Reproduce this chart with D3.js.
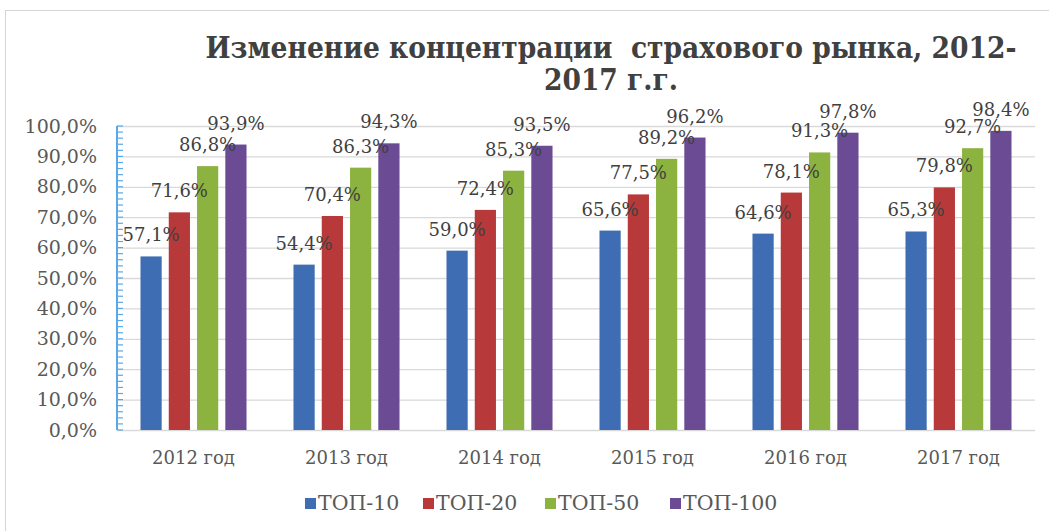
<!DOCTYPE html>
<html>
<head>
<meta charset="utf-8">
<script src="https://cdn.jsdelivr.net/npm/d3@7"></script>
<style>
  body { margin: 0; background: #fff; }
  svg { display: block; }
</style>
</head>
<body>
<svg id="chart"></svg>
<script>
const years = ['2012 год', '2013 год', '2014 год', '2015 год', '2016 год', '2017 год'];
const seriesNames = ['ТОП-10', 'ТОП-20', 'ТОП-50', 'ТОП-100'];
const top10 = [0.571, 0.544, 0.590, 0.656, 0.646, 0.653];
const top20 = [0.716, 0.704, 0.724, 0.775, 0.781, 0.798];
const top50 = [0.868, 0.863, 0.853, 0.892, 0.913, 0.927];
const top100 = [0.939, 0.943, 0.935, 0.962, 0.978, 0.984];
const yTicks = [0, 0.1, 0.2, 0.3, 0.4, 0.5, 0.6, 0.7, 0.8, 0.9, 1.0];
const colors = ['#3f6db3', '#b7393a', '#8cb23f', '#6a4b94'];

const W = 1049, H = 531;
const svg = d3.select('#chart').attr('width', W).attr('height', H);

// outer frame
svg.append('rect')
  .attr('x', 5.5).attr('y', 10.5)
  .attr('width', W + 10).attr('height', H + 10)
  .attr('fill', '#fff').attr('stroke', '#d4d4d4');

const x0 = d3.scaleBand().domain(years).range([117, 1035]).paddingInner(0.307).paddingOuter(0.1535);
const x1 = d3.scaleBand().domain(seriesNames).range([0, x0.bandwidth()]).paddingInner(0.25);
const y = d3.scaleLinear().domain([0, 1]).range([430, 126]);

const fmt = v => d3.format('.1f')(v * 100).replace('.', ',') + '%';

// gridlines
svg.append('g')
  .attr('transform', 'translate(117,0)')
  .call(d3.axisLeft(y).tickValues(yTicks).tickSize(-(1035 - 117)).tickFormat(''))
  .call(g => g.select('.domain').remove())
  .call(g => g.selectAll('line').attr('stroke', '#d9d9d9').attr('stroke-width', 1.3));

// y tick labels
svg.append('g')
  .selectAll('text')
  .data(yTicks)
  .enter()
  .append('text')
  .attr('x', 97)
  .attr('y', d => y(d))
  .attr('dy', '0.35em')
  .attr('text-anchor', 'end')
  .style('font-family', 'DejaVu Serif')
  .style('font-size', '19px')
  .style('fill', '#595959')
  .text(fmt);

// bars
const data = [top10, top20, top50, top100];
const groups = svg.append('g')
  .selectAll('g')
  .data(years)
  .enter()
  .append('g')
  .attr('transform', d => `translate(${x0(d)},0)`);

groups.selectAll('rect')
  .data((d, i) => seriesNames.map((s, k) => ({ s, v: data[k][i], k })))
  .enter()
  .append('rect')
  .attr('x', d => x1(d.s))
  .attr('y', d => y(d.v))
  .attr('width', x1.bandwidth())
  .attr('height', d => y(0) - y(d.v))
  .attr('fill', d => colors[d.k]);

groups.selectAll('.value-label')
  .data((d, i) => seriesNames.map((s, k) => ({ s, v: data[k][i], k })))
  .enter()
  .append('text')
  .attr('class', 'value-label')
  .attr('x', d => x1(d.s) + x1.bandwidth() / 2)
  .attr('y', d => y(d.v) - 15)
  .attr('text-anchor', 'middle')
  .style('font-family', 'DejaVu Serif')
  .style('font-size', '18px')
  .style('fill', '#404040')
  .text(d => fmt(d.v));

// y axis line with minor ticks
const minor = d3.range(0, 101, 2).map(d => d / 100);
const yAxis = svg.append('g').attr('transform', 'translate(117,0)');
yAxis.selectAll('line')
  .data(minor)
  .enter()
  .append('line')
  .attr('x1', 0).attr('x2', 6)
  .attr('y1', d => y(d)).attr('y2', d => y(d))
  .attr('stroke', '#5aa8e8').attr('stroke-width', 1.2);
yAxis.append('line')
  .attr('x1', 0).attr('x2', 0)
  .attr('y1', y(1)).attr('y2', y(0))
  .attr('stroke', '#5aa8e8').attr('stroke-width', 2);

// x labels
svg.append('g')
  .selectAll('text')
  .data(years)
  .enter()
  .append('text')
  .attr('x', d => x0(d) + x0.bandwidth() / 2)
  .attr('y', 464)
  .attr('text-anchor', 'middle')
  .style('font-family', 'DejaVu Serif')
  .style('font-size', '18px')
  .style('fill', '#595959')
  .text(d => d);

// title
const title = svg.append('text')
  .attr('x', 611)
  .attr('text-anchor', 'middle')
  .style('white-space', 'pre')
  .style('font-family', 'DejaVu Serif')
  .style('font-stretch', 'condensed')
  .style('font-weight', 'bold')
  .style('font-size', '29.5px')
  .style('fill', '#404040');
title.append('tspan').attr('x', 611).attr('y', 58).text('Изменение концентрации  страхового рынка, 2012-');
title.append('tspan').attr('x', 611).attr('y', 90).text('2017 г.г.');

// legend
const legendX = [305, 423, 545, 670];
const legend = svg.append('g')
  .selectAll('g')
  .data(seriesNames)
  .enter()
  .append('g')
  .attr('transform', (d, i) => `translate(${legendX[i]},498)`);
legend.append('rect')
  .attr('width', 11).attr('height', 11)
  .attr('fill', (d, i) => colors[i]);
legend.append('text')
  .attr('x', 13)
  .attr('y', 12)
  .style('font-family', 'DejaVu Serif')
  .style('font-size', '20.5px')
  .style('fill', '#595959')
  .text(d => d);
</script>
</body>
</html>
